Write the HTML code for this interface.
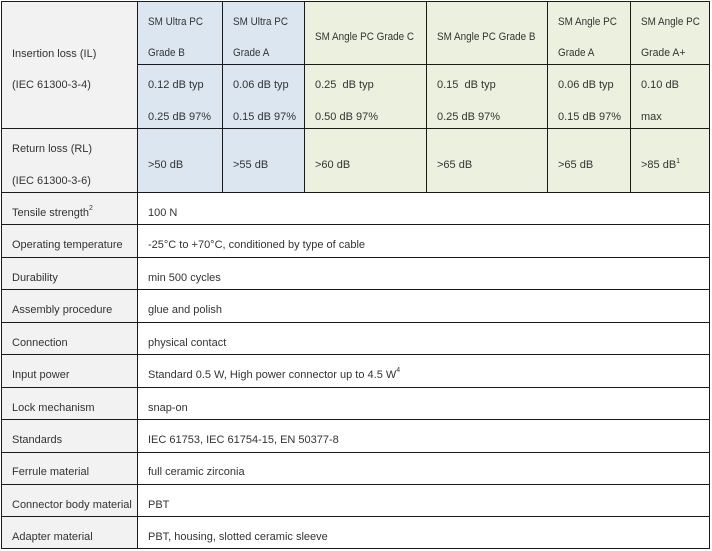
<!DOCTYPE html>
<html><head><meta charset="utf-8">
<style>
html,body{margin:0;padding:0;background:#fff;}
body{width:712px;height:551px;position:relative;overflow:hidden;font-family:"Liberation Sans",Arial,sans-serif;font-size:11px;color:#333;}
.c{position:absolute;}
.t{position:absolute;line-height:13px;white-space:nowrap;}
.s{transform:scaleX(0.9);transform-origin:0 0;}
.h{position:absolute;height:1px;background:#1a1a1a;}
.v{position:absolute;width:1px;background:#1a1a1a;}
sup{font-size:7px;line-height:0;position:relative;top:-1px;vertical-align:super;}
</style></head><body>
<!-- backgrounds -->
<div class="c" style="left:1px;top:1px;width:136px;height:547px;background:#f2f2f2"></div>
<div class="c" style="left:137px;top:1px;width:167px;height:191px;background:#dce6f1"></div>
<div class="c" style="left:304px;top:1px;width:405px;height:191px;background:#ebf1de"></div>

<!-- horizontal lines -->
<div class="h" style="left:1px;top:1px;width:709px"></div>
<div class="h" style="left:137px;top:64px;width:573px"></div>
<div class="h" style="left:1px;top:128px;width:709px"></div>
<div class="h" style="left:1px;top:192px;width:709px"></div>
<div class="h" style="left:1px;top:224px;width:709px"></div>
<div class="h" style="left:1px;top:257px;width:709px"></div>
<div class="h" style="left:1px;top:289px;width:709px"></div>
<div class="h" style="left:1px;top:322px;width:709px"></div>
<div class="h" style="left:1px;top:354px;width:709px"></div>
<div class="h" style="left:1px;top:387px;width:709px"></div>
<div class="h" style="left:1px;top:419px;width:709px"></div>
<div class="h" style="left:1px;top:452px;width:709px"></div>
<div class="h" style="left:1px;top:484px;width:709px"></div>
<div class="h" style="left:1px;top:516px;width:709px"></div>
<div class="h" style="left:1px;top:548px;width:709px"></div>

<!-- vertical lines -->
<div class="v" style="left:1px;top:1px;height:548px"></div>
<div class="v" style="left:137px;top:1px;height:548px"></div>
<div class="v" style="left:222px;top:1px;height:192px"></div>
<div class="v" style="left:304px;top:1px;height:192px"></div>
<div class="v" style="left:426px;top:1px;height:192px"></div>
<div class="v" style="left:547px;top:1px;height:192px"></div>
<div class="v" style="left:630px;top:1px;height:192px"></div>
<div class="v" style="left:709px;top:1px;height:548px"></div>

<!-- header row -->
<div class="t" style="left:12px;top:47.5px">Insertion loss (IL)</div>
<div class="t" style="left:12px;top:79.2px">(IEC 61300-3-4)</div>

<div class="t s" style="left:148px;top:15.7px">SM Ultra PC</div>
<div class="t s" style="left:148px;top:47.2px">Grade B</div>
<div class="t s" style="left:233px;top:15.7px">SM Ultra PC</div>
<div class="t s" style="left:233px;top:47.2px">Grade A</div>
<div class="t s" style="left:315px;top:31.2px">SM Angle PC Grade C</div>
<div class="t s" style="left:437px;top:31.2px">SM Angle PC Grade B</div>
<div class="t s" style="left:558px;top:15.7px">SM Angle PC</div>
<div class="t s" style="left:558px;top:47.2px">Grade A</div>
<div class="t s" style="left:641px;top:15.7px">SM Angle PC</div>
<div class="t" style="left:641px;top:47.2px;transform:scaleX(0.95);transform-origin:0 0">Grade A+</div>

<!-- IL values -->
<div class="t" style="left:148px;top:79.2px">0.12 dB typ</div>
<div class="t" style="left:148px;top:111px">0.25 dB 97%</div>
<div class="t" style="left:233px;top:79.2px">0.06 dB typ</div>
<div class="t" style="left:233px;top:111px">0.15 dB 97%</div>
<div class="t" style="left:315px;top:79.2px">0.25&nbsp; dB typ</div>
<div class="t" style="left:315px;top:111px">0.50 dB 97%</div>
<div class="t" style="left:437px;top:79.2px">0.15&nbsp; dB typ</div>
<div class="t" style="left:437px;top:111px">0.25 dB 97%</div>
<div class="t" style="left:558px;top:79.2px">0.06 dB typ</div>
<div class="t" style="left:558px;top:111px">0.15 dB 97%</div>
<div class="t" style="left:641px;top:79.2px">0.10 dB</div>
<div class="t" style="left:641px;top:111px">max</div>

<!-- RL -->
<div class="t" style="left:12px;top:143.2px">Return loss (RL)</div>
<div class="t" style="left:12px;top:174.7px">(IEC 61300-3-6)</div>
<div class="t" style="left:148px;top:159.2px">&gt;50 dB</div>
<div class="t" style="left:233px;top:159.2px">&gt;55 dB</div>
<div class="t" style="left:315px;top:159.2px">&gt;60 dB</div>
<div class="t" style="left:437px;top:159.2px">&gt;65 dB</div>
<div class="t" style="left:558px;top:159.2px">&gt;65 dB</div>
<div class="t" style="left:641px;top:159.2px">&gt;85 dB<sup>1</sup></div>

<!-- lower rows -->
<div class="t" style="left:12px;top:206.7px">Tensile strength<sup>2</sup></div>
<div class="t" style="left:148px;top:206.7px">100 N</div>

<div class="t" style="left:12px;top:238.7px">Operating temperature</div>
<div class="t" style="left:148px;top:238.7px">-25°C to +70°C, conditioned by type of cable</div>

<div class="t" style="left:12px;top:271.7px">Durability</div>
<div class="t" style="left:148px;top:271.7px">min 500 cycles</div>

<div class="t" style="left:12px;top:303.7px">Assembly procedure</div>
<div class="t" style="left:148px;top:303.7px">glue and polish</div>

<div class="t" style="left:12px;top:336.7px">Connection</div>
<div class="t" style="left:148px;top:336.7px">physical contact</div>

<div class="t" style="left:12px;top:368.7px">Input power</div>
<div class="t" style="left:148px;top:368.7px">Standard 0.5 W, High power connector up to 4.5 W<sup>4</sup></div>

<div class="t" style="left:12px;top:401.7px">Lock mechanism</div>
<div class="t" style="left:148px;top:401.7px">snap-on</div>

<div class="t" style="left:12px;top:433.7px">Standards</div>
<div class="t" style="left:148px;top:433.7px">IEC 61753, IEC 61754-15, EN 50377-8</div>

<div class="t" style="left:12px;top:466.2px">Ferrule material</div>
<div class="t" style="left:148px;top:466.2px">full ceramic zirconia</div>

<div class="t" style="left:12px;top:498.7px">Connector body material</div>
<div class="t" style="left:148px;top:498.7px">PBT</div>

<div class="t" style="left:12px;top:530.7px">Adapter material</div>
<div class="t" style="left:148px;top:530.7px">PBT, housing, slotted ceramic sleeve</div>
</body></html>
